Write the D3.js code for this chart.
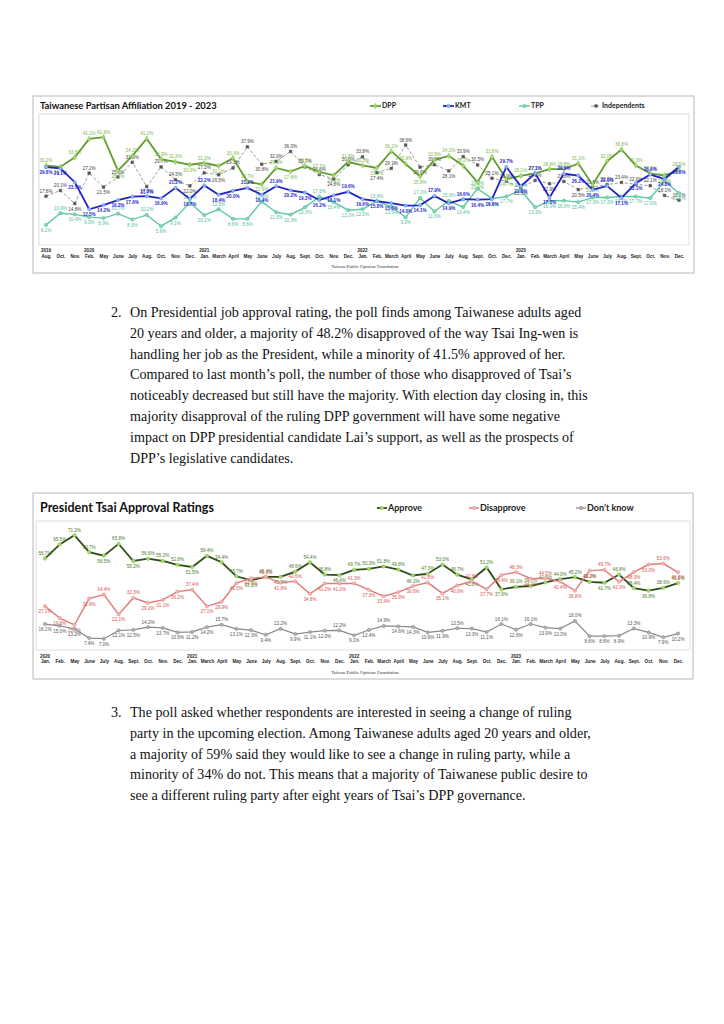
<!DOCTYPE html>
<html>
<head>
<meta charset="utf-8">
<script src="https://cdn.jsdelivr.net/npm/d3@7"></script>
<style>
  body { margin: 0; background: #fff; }
  svg { display: block; }
</style>
</head>
<body>
<div id="page"></div>
<script>
// ---- chart 1 : partisan affiliation ----
const partyMonths = ["Aug.","Oct.","Nov.","Feb.","May","June","July","Aug.","Oct.","Nov.","Dec.",
  "Jan.","March","April","May","June","July","Aug.","Sept.","Oct.","Nov.","Dec.",
  "Jan.","Feb.","March","April","May","June","July","Aug.","Sept.","Oct.","Dec.",
  "Jan.","Feb.","March","April","May","June","July","Aug.","Sept.","Oct.","Nov.","Dec."];
const partyYears = [[0, "2019"], [3, "2020"], [11, "2021"], [22, "2022"], [33, "2023"]];
const dpp = [30.2, 29.7, 33.6, 41.1, 41.8, 28.2, 34.2, 41.2, 32.9, 31.8, 30.6,
  31.3, 30.1, 33.3, 23.7, 22.6, 29.3, 27.8, 30.1, 27.7, 26.3, 31.8,
  30.3, 29.3, 36.1, 30.9, 25.8, 32.6, 34.2, 30.2, 23.4, 33.8, 24.7,
  26.1, 27.1, 28.8, 28.8, 31.1, 22.4, 32.0, 36.8, 30.3, 27.1, 26.2, 28.5];
const kmt = [29.6, 29.1, 23.5, 12.5, 14.2, 16.2, 17.6, 17.8, 16.9, 21.2, 16.7,
  22.2, 18.4, 20.0, 21.2, 18.4, 21.9, 20.2, 19.3, 16.2, 18.1, 19.6,
  16.6, 15.8, 15.0, 14.0, 14.1, 17.9, 14.9, 16.6, 16.4, 16.6, 29.7,
  21.8, 27.1, 17.3, 26.9, 26.2, 20.4, 22.0, 17.1, 23.1, 26.6, 24.8, 29.8];
const tpp = [6.1, 10.9, 10.4, 9.3, 8.9, 10.7, 8.3, 10.2, 5.6, 9.1, 15.2,
  10.1, 12.5, 8.6, 8.6, 15.6, 11.3, 10.3, 13.3, 17.6, 15.4, 12.1,
  12.5, 15.8, 13.5, 9.2, 17.1, 11.6, 15.9, 13.4, 20.9, 16.8, 17.7,
  20.2, 13.3, 16.0, 16.0, 15.4, 17.3, 17.3, 17.7, 17.7, 17.0, 24.0, 19.0];
const independents = [17.8, 20.1, 14.8, 27.2, 21.5, 25.6, 31.6, 21.7, 29.7, 24.5, 22.0,
  27.3, 26.5, 29.3, 37.9, 30.8, 32.0, 36.0, 29.7, 26.6, 24.8, 30.6,
  33.8, 27.4, 29.1, 38.6, 29.6, 30.6, 28.1, 33.9, 30.5, 25.1, 23.9,
  21.3, 24.2, 22.9, 23.8, 20.5, 21.5, 22.5, 23.4, 22.6, 22.1, 18.1, 16.2];

// ---- chart 2 : approval ratings ----
const approvalMonths = ["Jan.","Feb.","May","June","July","Aug.","Sept.","Oct.","Nov.","Dec.",
  "Jan.","March","April","May","June","July","Aug.","Sept.","Oct.","Nov.","Dec.",
  "Jan.","Feb.","March","April","May","June","July","Aug.","Sept.","Oct.","Dec.",
  "Jan.","Feb.","March","April","May","June","July","Aug.","Sept.","Oct.","Nov.","Dec."];
const approvalYears = [[0, "2020"], [10, "2021"], [21, "2022"], [32, "2023"]];
const approve = [56.7, 65.5, 71.2, 60.7, 58.5, 65.8, 55.2, 56.6, 55.2, 52.8,
  51.5, 58.4, 54.4, 45.7, 43.2, 45.4, 45.3, 48.6, 54.4, 46.8, 46.4,
  49.7, 50.3, 51.8, 49.8, 46.2, 47.3, 53.0, 46.7, 43.8, 51.2, 37.6,
  39.1, 39.7, 41.9, 44.0, 45.2, 42.2, 41.7, 46.8, 38.4, 36.8, 38.6, 41.5];
const disapprove = [27.1, 19.8, 15.6, 31.9, 34.4, 22.1, 32.3, 29.2, 31.1, 36.2,
  37.4, 27.1, 29.9, 41.5, 44.5, 45.2, 41.8, 42.6, 34.8, 41.2, 41.2,
  41.3, 37.3, 33.4, 35.9, 39.6, 41.8, 35.1, 40.0, 42.6, 37.7, 46.4,
  48.3, 44.2, 44.5, 42.4, 36.8, 49.2, 49.7, 42.3, 48.3, 53.0, 53.6, 48.2];
const dontKnow = [16.1, 15.0, 13.2, 7.4, 7.0, 12.1, 12.5, 14.2, 13.7, 10.9,
  11.2, 14.2, 15.7, 13.1, 12.3, 9.4, 13.2, 9.9, 11.1, 12.0, 12.2,
  9.1, 12.4, 14.9, 14.6, 14.3, 10.9, 11.9, 13.5, 13.3, 11.1, 16.1,
  12.6, 16.1, 13.9, 13.3, 18.0, 8.6, 8.6, 8.9, 13.3, 10.9, 7.9, 10.2];

const para2 = [
  "On Presidential job approval rating, the poll finds among Taiwanese adults aged",
  "20 years and older, a majority of 48.2% disapproved of the way Tsai Ing-wen is",
  "handling her job as the President, while a minority of 41.5% approved of her.",
  "Compared to last month\u2019s poll, the number of those who disapproved of Tsai\u2019s",
  "noticeably decreased but still have the majority. With election day closing in, this",
  "majority disapproval of the ruling DPP government will have some negative",
  "impact on DPP presidential candidate Lai\u2019s support, as well as the prospects of",
  "DPP\u2019s legislative candidates."
];
const para3 = [
  "The poll asked whether respondents are interested in seeing a change of ruling",
  "party in the upcoming election. Among Taiwanese adults aged 20 years and older,",
  "a majority of 59% said they would like to see a change in ruling party, while a",
  "minority of 34% do not. This means that a majority of Taiwanese public desire to",
  "see a different ruling party after eight years of Tsai\u2019s DPP governance."
];

const svg = d3.select("#page").append("svg")
  .attr("width", 724).attr("height", 1024);
svg.append("rect").attr("width", 724).attr("height", 1024).attr("fill", "#fff");

const labelFont = "Liberation Sans, Arial, sans-serif";
const titleFont = "Lato, Open Sans, sans-serif";

function labelDy(vals, i, prefer) {
  const v = vals[i];
  const p = i > 0 ? vals[i - 1] : v;
  const n = i < vals.length - 1 ? vals[i + 1] : v;
  if (prefer === "above") return (v < p && v < n) ? 7 : -3.5;
  return (v > p && v > n) ? -3.5 : 7;
}

function drawChart(cfg) {
  const g = svg.append("g");

  // outer box
  g.append("rect")
    .attr("x", cfg.box[0]).attr("y", cfg.box[1])
    .attr("width", cfg.box[2]).attr("height", cfg.box[3])
    .attr("fill", "#fff").attr("stroke", "#b8b8b8").attr("stroke-width", 1);

  // plot frame
  const [px0, py0, px1, py1] = cfg.plot;
  g.append("rect")
    .attr("x", px0).attr("y", py0)
    .attr("width", px1 - px0).attr("height", py1 - py0)
    .attr("fill", "none").attr("stroke", "#d6d6d6").attr("stroke-width", 0.8);

  g.append("text")
    .attr("x", cfg.titlePos[0]).attr("y", cfg.titlePos[1])
    .attr("font-family", titleFont).attr("font-weight", 700)
    .attr("font-size", cfg.titleSize).attr("fill", "#111")
    .text(cfg.title);

  const x = d3.scalePoint()
    .domain(d3.range(cfg.months.length))
    .range(cfg.xRange);
  const y = d3.scaleLinear().domain(cfg.yDomain).range([cfg.yZero, cfg.yTop]);

  // x axis: month labels
  const axis = g.append("g")
    .attr("transform", `translate(0,${py1})`)
    .call(d3.axisBottom(x).tickSize(0).tickPadding(cfg.monthPad)
      .tickFormat(i => cfg.months[i]));
  axis.select(".domain").remove();
  axis.selectAll("text")
    .attr("font-family", labelFont).attr("font-size", 4.6)
    .attr("font-weight", 700).attr("fill", "#222");

  g.selectAll(".yr")
    .data(cfg.years)
    .enter().append("text")
    .attr("x", d => x(d[0]))
    .attr("y", cfg.yearY)
    .attr("text-anchor", "middle")
    .attr("font-family", labelFont).attr("font-size", 4.6)
    .attr("font-weight", 700).attr("fill", "#222")
    .text(d => d[1]);

  g.append("text")
    .attr("x", cfg.footer[0]).attr("y", cfg.footer[1])
    .attr("text-anchor", "middle")
    .attr("font-family", "Liberation Serif, Times New Roman, serif")
    .attr("font-size", 4.8).attr("fill", "#333")
    .text("Taiwan Public Opinion Foundation");

  const line = d3.line().x((d, i) => x(i)).y(d => y(d));

  cfg.series.forEach(s => {
    g.append("path")
      .datum(s.values)
      .attr("fill", "none")
      .attr("stroke", s.line)
      .attr("stroke-width", s.width)
      .attr("stroke-dasharray", s.dash || null)
      .attr("d", line);

    g.selectAll(null)
      .data(s.values)
      .enter().append("path")
      .attr("transform", (d, i) => `translate(${x(i)},${y(d)})`)
      .attr("d", d3.symbol().type(s.symbol).size(s.symbolSize))
      .attr("fill", s.markerFill)
      .attr("stroke", s.markerStroke)
      .attr("stroke-width", 0.5);

    g.selectAll(null)
      .data(s.values)
      .enter().append("text")
      .attr("x", (d, i) => x(i))
      .attr("y", (d, i) => y(d) + labelDy(s.values, i, s.labelPos))
      .attr("text-anchor", "middle")
      .attr("font-family", labelFont)
      .attr("font-size", s.labelSize)
      .attr("font-weight", s.labelBold ? 700 : 400)
      .attr("fill", s.labelColor)
      .text(d => d.toFixed(1) + "%");
  });

  // legend
  cfg.legend.forEach(l => {
    const s = cfg.series.find(d => d.name === l.text);
    g.append("line")
      .attr("x1", l.x).attr("x2", l.x + l.len)
      .attr("y1", l.y).attr("y2", l.y)
      .attr("stroke", s.line).attr("stroke-width", s.width)
      .attr("stroke-dasharray", s.dash || null);
    g.append("path")
      .attr("transform", `translate(${l.x + l.len / 2},${l.y})`)
      .attr("d", d3.symbol().type(s.symbol).size(s.symbolSize))
      .attr("fill", s.markerFill).attr("stroke", s.markerStroke).attr("stroke-width", 0.5);
    g.append("text")
      .attr("x", l.x + l.len + 1).attr("y", l.y)
      .attr("dy", "0.35em")
      .attr("font-family", titleFont).attr("font-weight", 700)
      .attr("font-size", cfg.legendSize).attr("fill", "#222")
      .text(l.text);
  });
}

drawChart({
  box: [33, 96, 661, 177],
  plot: [39, 114, 689, 245],
  title: "Taiwanese Partisan Affiliation 2019 - 2023",
  titlePos: [40, 108.5],
  titleSize: 9.4,
  months: partyMonths,
  years: partyYears,
  xRange: [46, 679],
  yDomain: [0, 50],
  yZero: 240,
  yTop: 117,
  monthPad: 10,
  yearY: 252,
  footer: [365, 268],
  legendSize: 7,
  legend: [
    { x: 370, y: 106, len: 11, text: "DPP" },
    { x: 443, y: 106, len: 11, text: "KMT" },
    { x: 519, y: 106, len: 11, text: "TPP" },
    { x: 591, y: 106, len: 10, text: "Independents" }
  ],
  series: [
    { name: "Independents", values: independents, line: "#8c8c8c", width: 0.9, dash: "3,2", symbol: d3.symbolSquare, symbolSize: 7,
      markerFill: "#555", markerStroke: "#555", labelColor: "#444", labelSize: 4.6, labelPos: "above" },
    { name: "TPP", values: tpp, line: "#5cc7a0", width: 1.4, symbol: d3.symbolCircle, symbolSize: 9,
      markerFill: "#7fd8b8", markerStroke: "#4fb890", labelColor: "#4fbf96", labelSize: 4.6, labelPos: "below" },
    { name: "DPP", values: dpp, line: "#5e9e2e", width: 1.8, symbol: d3.symbolDiamond, symbolSize: 9,
      markerFill: "#a6d86e", markerStroke: "#8cc152", labelColor: "#7cb84a", labelSize: 4.6, labelPos: "above" },
    { name: "KMT", values: kmt, line: "#2020c8", width: 1.8, symbol: d3.symbolCircle, symbolSize: 9,
      markerFill: "#8fb8f0", markerStroke: "#5a8fe0", labelColor: "#2a2ad0", labelSize: 4.6, labelBold: true, labelPos: "below" }
  ]
});

drawChart({
  box: [33, 493, 660, 186],
  plot: [36, 521, 690, 650],
  title: "President Tsai Approval Ratings",
  titlePos: [40, 512],
  titleSize: 12.5,
  months: approvalMonths,
  years: approvalYears,
  xRange: [45, 678],
  yDomain: [0, 80],
  yZero: 650,
  yTop: 521,
  monthPad: 10,
  yearY: 658,
  footer: [365, 674],
  legendSize: 9,
  legend: [
    { x: 377, y: 508, len: 10, text: "Approve" },
    { x: 469, y: 508, len: 10, text: "Disapprove" },
    { x: 576, y: 508, len: 10, text: "Don\u2019t know" }
  ],
  series: [
    { name: "Approve", values: approve, line: "#2f4f1a", width: 1.8, symbol: d3.symbolCircle, symbolSize: 10,
      markerFill: "#a3d86a", markerStroke: "#8cc152", labelColor: "#4a7a2a", labelSize: 4.6, labelPos: "above" },
    { name: "Disapprove", values: disapprove, line: "#e07a7a", width: 1.4, symbol: d3.symbolCircle, symbolSize: 9,
      markerFill: "#f4b6b6", markerStroke: "#e08888", labelColor: "#d9534f", labelSize: 4.6, labelPos: "below" },
    { name: "Don\u2019t know", values: dontKnow, line: "#8a8a8a", width: 1.2, symbol: d3.symbolCircle, symbolSize: 9,
      markerFill: "#b0b0b0", markerStroke: "#888", labelColor: "#555", labelSize: 4.6, labelPos: "below" }
  ]
});

// ---- body text ----
function drawParagraph(num, lines, top) {
  const g = svg.append("g")
    .attr("font-family", "Liberation Serif, Times New Roman, serif")
    .attr("font-size", 14.1).attr("fill", "#111");
  g.append("text").attr("x", 111).attr("y", top).text(num);
  g.selectAll(null)
    .data(lines)
    .enter().append("text")
    .attr("x", 130)
    .attr("y", (d, i) => top + i * 20.8)
    .text(d => d);
}
drawParagraph("2.", para2, 317);
drawParagraph("3.", para3, 717);
</script>
</body>
</html>
